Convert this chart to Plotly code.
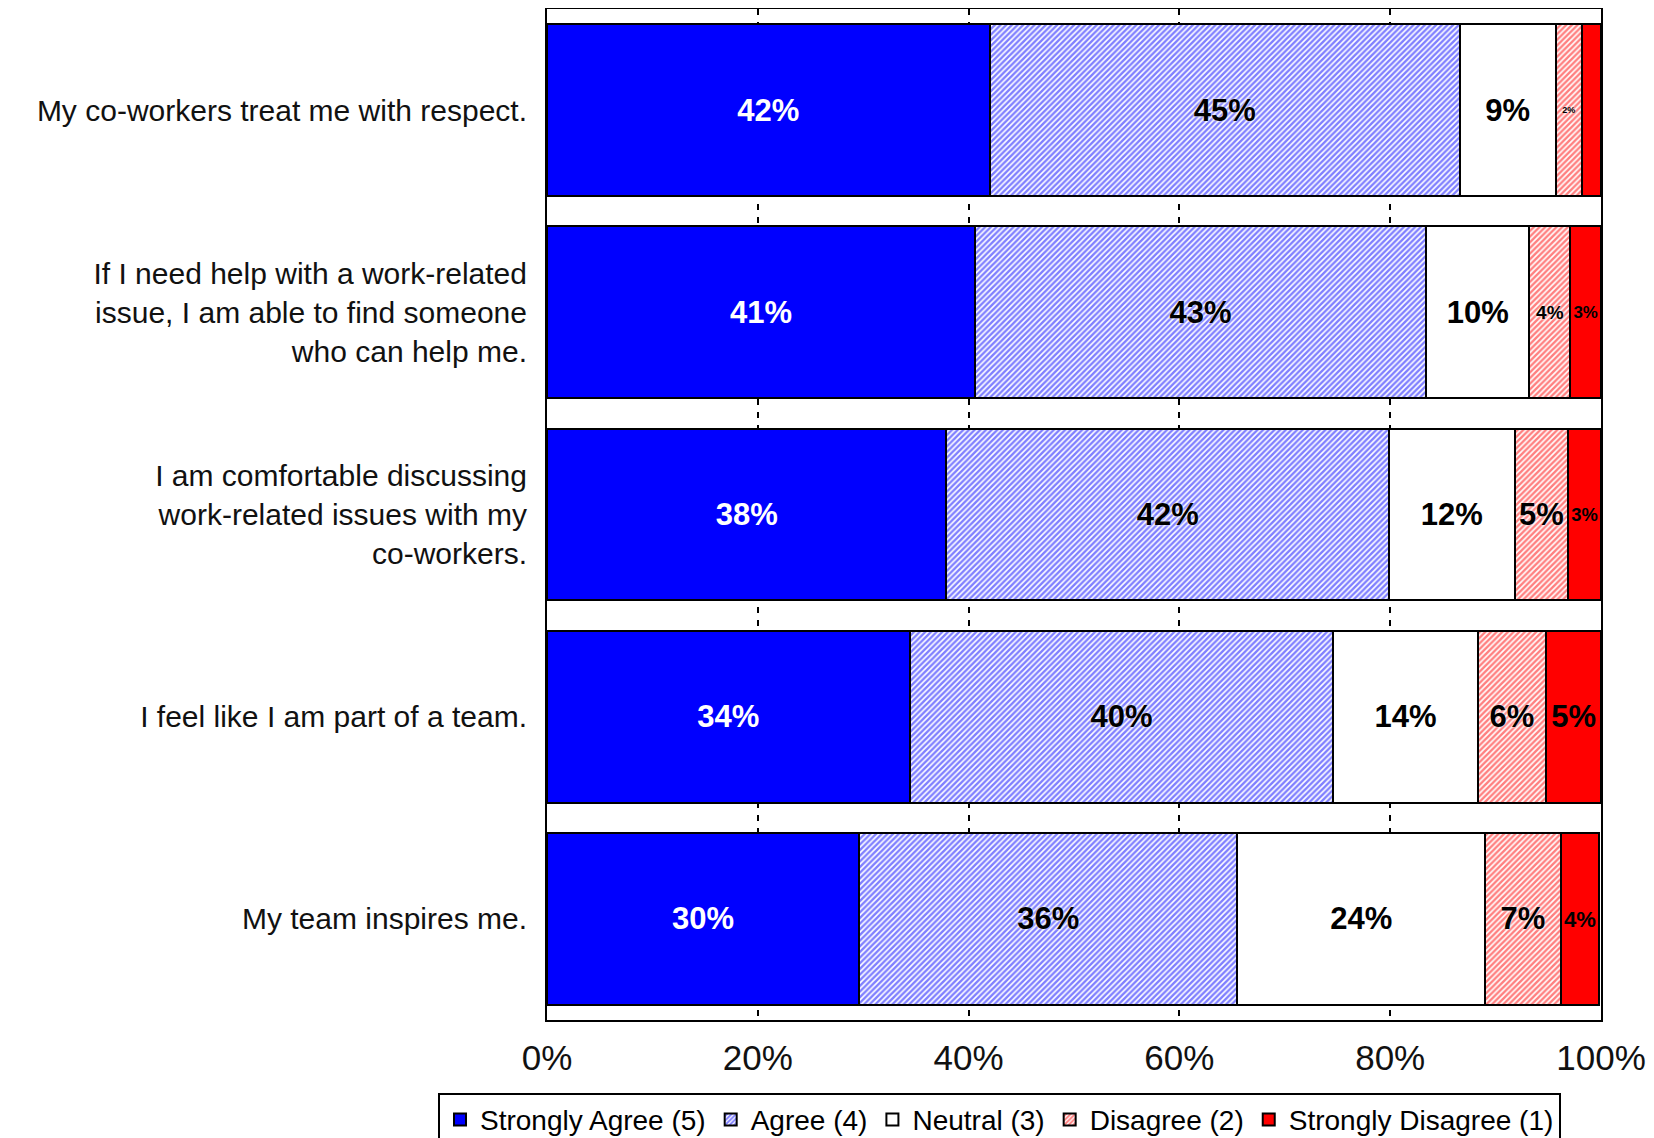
import plotly.graph_objects as go

categories = [
    "My co-workers treat me with respect.",
    "If I need help with a work-related<br>issue, I am able to find someone<br>who can help me.",
    "I am comfortable discussing<br>work-related issues with my<br>co-workers.",
    "I feel like I am part of a team.",
    "My team inspires me.",
]

strongly_agree = [42.0, 40.6, 37.9, 34.4, 29.6]
agree = [44.6, 42.8, 42.0, 40.2, 35.9]
neutral = [9.1, 9.8, 11.9, 13.7, 23.5]
disagree = [2.5, 3.9, 5.1, 6.5, 7.2]
strongly_disagree = [1.8, 2.9, 3.1, 5.2, 3.6]

lbl_sa = ["42%", "41%", "38%", "34%", "30%"]
lbl_a = ["45%", "43%", "42%", "40%", "36%"]
lbl_n = ["9%", "10%", "12%", "14%", "24%"]
lbl_d = ["2%", "4%", "5%", "6%", "7%"]
lbl_sd = ["", "3%", "3%", "5%", "4%"]

x_ticks = [0, 20, 40, 60, 80, 100]
x_tick_labels = ["0%", "20%", "40%", "60%", "80%", "100%"]

FONT = "Liberation Sans, Arial, sans-serif"

fig = go.Figure()

def add(name, vals, labels, color, pattern=None, txtcolor="black", sizes=31, shadow=None):
    marker = dict(color=color, line=dict(color="black", width=2))
    if pattern:
        marker["color"] = "white"
        marker["pattern"] = dict(shape="/", fgcolor=color, bgcolor="white", size=4, solidity=0.6)
    tf = dict(family=FONT, color=txtcolor, size=sizes)
    if shadow:
        tf["shadow"] = shadow
    fig.add_trace(go.Bar(
        y=categories, x=vals, name=name, orientation="h",
        text=labels, texttemplate="<b>%{text}</b>", textposition="inside",
        insidetextanchor="middle", textangle=0,
        textfont=tf, marker=marker,
        hoverinfo="skip",
    ))

add("Strongly Agree (5)", strongly_agree, lbl_sa, "#0000FF", txtcolor="white")
add("Agree (4)", agree, lbl_a, "#0000FF", pattern=True, shadow="0px 0px 3px white")
add("Neutral (3)", neutral, lbl_n, "white")
add("Disagree (2)", disagree, lbl_d, "#FF0000", pattern=True, sizes=[9, 19, 31, 31, 31], shadow="0px 0px 3px white")
add("Strongly Disagree (1)", strongly_disagree, lbl_sd, "#FF0000", sizes=[9, 19, 19, 31, 24])

fig.update_layout(
    width=1646, height=1130,
    barmode="stack", bargap=0.15,
    plot_bgcolor="white", paper_bgcolor="white",
    margin=dict(l=539, r=53, t=1, b=118, autoexpand=False),
    font=dict(family=FONT, color="black"),
    legend=dict(
        orientation="h", xref="paper", yref="paper",
        x=-0.1034, xanchor="left", y=-0.072, yanchor="top",
        bordercolor="black", borderwidth=2,
        font=dict(family=FONT, size=28, color="black"),
        traceorder="normal", tracegroupgap=0,
    ),
    showlegend=True,
)

fig.update_xaxes(
    range=[0, 100], tickvals=x_ticks, ticktext=x_tick_labels,
    tickfont=dict(family=FONT, size=35, color="#111"),
    showgrid=True, gridcolor="black", gridwidth=2, griddash="6px,7px",
    showline=True, mirror=True, linecolor="black", linewidth=2,
    zeroline=False, ticks="", ticklabelstandoff=6,
)
fig.update_yaxes(
    autorange="reversed",
    tickfont=dict(family=FONT, size=30, color="#111"),
    showline=True, mirror=True, linecolor="black", linewidth=2,
    ticks="", ticklabelstandoff=12,
)

fig.write_html("out.html")
